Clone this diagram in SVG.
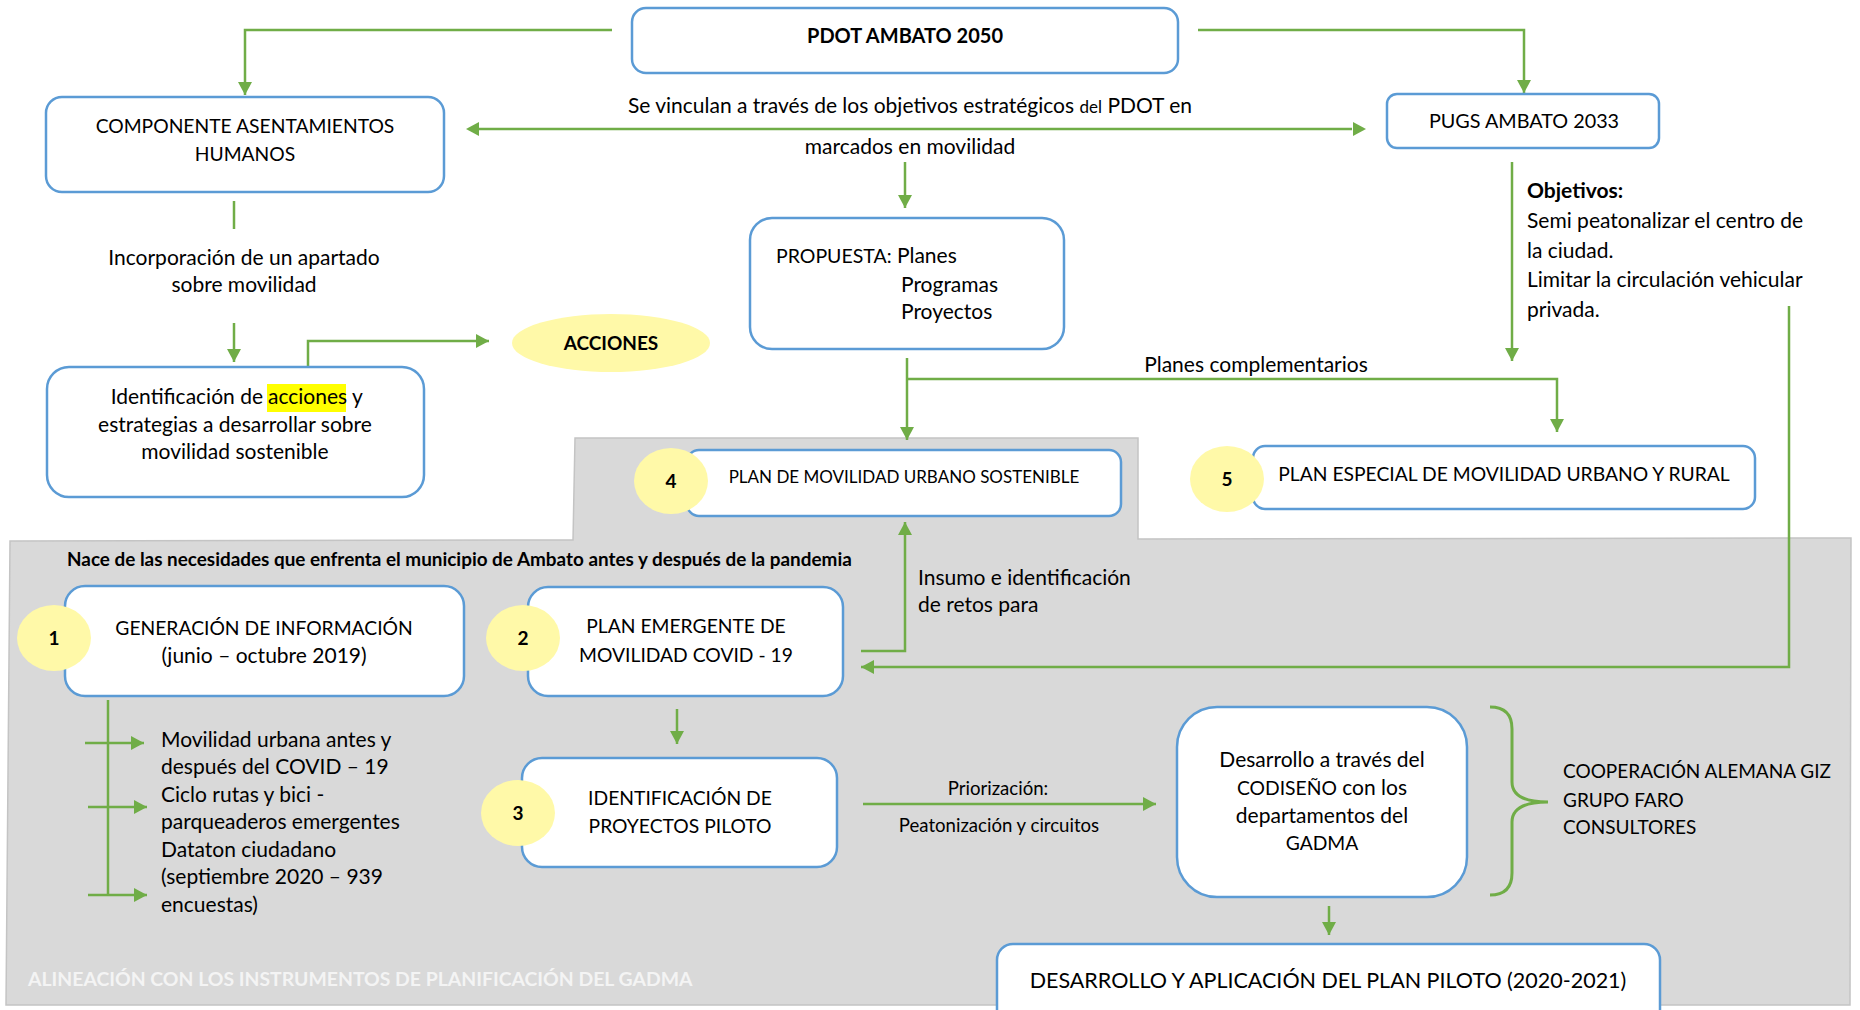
<svg xmlns="http://www.w3.org/2000/svg" width="1860" height="1010" viewBox="0 0 1860 1010">
<defs>
<style>
.box{fill:#fff;stroke:#5B9BD5;stroke-width:2.5}
.num{fill:#FFF9A8}
.ln{fill:none;stroke:#70AD47;stroke-width:2.5}
.ar{fill:none;stroke:#70AD47;stroke-width:2.5;marker-end:url(#ah)}
.t{font-family:Lato,'Liberation Sans',sans-serif;font-size:21px;fill:#000}
.u{font-size:19.3px}
.m{text-anchor:middle}
.b{font-weight:bold}
.n{font-family:Lato,'Liberation Sans',sans-serif;font-size:19px;font-weight:bold;text-anchor:middle}
</style>
<marker id="ah" markerUnits="userSpaceOnUse" markerWidth="14" markerHeight="14" refX="13" refY="7" orient="auto">
<path d="M0,0 L13,7 L0,14 z" fill="#70AD47"/>
</marker>
</defs>
<rect width="1860" height="1010" fill="#fff"/>
<polygon id="background" points="10,541 573,540 575,438 1138,438 1138,539 1851,538 1850,1005 6,1005" fill="#D9D9D9" stroke="#C4C4C4" stroke-width="1.5"/>

<g id="connectors">
<path class="ar" d="M612,30 H245 V95"/>
<path class="ar" d="M1198,30 H1524 V93"/>
<path class="ln" d="M478,129 H1352"/>
<path d="M466,129 L479,122 L479,136 z" fill="#70AD47"/>
<path d="M1366,129 L1353,122 L1353,136 z" fill="#70AD47"/>
<path class="ar" d="M905,162 V208"/>
<path class="ln" d="M234,201 V229"/>
<path class="ar" d="M234,323 V362"/>
<path class="ar" d="M308,386 V341 H489"/>
<path class="ar" d="M907,358 V440"/>
<path class="ar" d="M907,379 H1557 V432"/>
<path class="ar" d="M1512,162 V361"/>
<path class="ar" d="M1789,306 V667 H861"/>
<path class="ar" d="M861,651 H905 V522"/>
<path class="ar" d="M677,709 V744"/>
<path class="ln" d="M108,700 V895"/>
<path class="ar" d="M85,743 H144"/>
<path class="ar" d="M88,807 H147"/>
<path class="ar" d="M88,895 H147"/>
<path class="ar" d="M863,804 H1156"/>
<path class="ar" d="M1329,906 V935"/>
<path id="brace" class="ln" style="stroke-width:3" d="M1490,707 Q1512,707 1512,729 V782 Q1512,802 1548,802 Q1512,802 1512,822 V873 Q1512,895 1490,895"/>
</g>

<g id="pdot">
<rect class="box" x="632" y="8" width="546" height="65" rx="14"/>
<text class="t m b" x="905" y="43" style="font-size:20px">PDOT AMBATO 2050</text>
</g>
<g id="vinculo-label">
<text class="t m" x="910" y="113">Se vinculan a través de los objetivos estratégicos <tspan style="font-size:17px">del</tspan> PDOT en</text>
<text class="t m" x="910" y="154">marcados en movilidad</text>
</g>
<g id="componente">
<rect class="box" x="46" y="97" width="398" height="95" rx="16"/>
<text class="t m u" x="245" y="133">COMPONENTE ASENTAMIENTOS</text>
<text class="t m u" x="245" y="161">HUMANOS</text>
</g>
<g id="incorporacion">
<text class="t m" x="244" y="265">Incorporación de un apartado</text>
<text class="t m" x="244" y="292">sobre movilidad</text>
</g>
<g id="identificacion">
<rect class="box" x="47" y="367" width="377" height="130" rx="22"/>
<rect x="267" y="384" width="79" height="28" fill="#FFFF00"/>
<text class="t" x="263" y="404" text-anchor="end">Identificación de</text>
<text class="t" x="268" y="404">acciones</text>
<text class="t" x="352" y="404">y</text>
<text class="t m" x="235" y="432">estrategias a desarrollar sobre</text>
<text class="t m" x="235" y="459">movilidad sostenible</text>
</g>
<g id="acciones">
<ellipse class="num" cx="611" cy="343" rx="99" ry="29"/>
<text class="t m b" x="611" y="350" style="font-size:19px">ACCIONES</text>
</g>
<g id="propuesta">
<rect class="box" x="750" y="218" width="314" height="131" rx="22"/>
<text class="t" x="776" y="263"><tspan style="font-size:19.5px">PROPUESTA:</tspan> Planes</text>
<text class="t" x="901" y="292">Programas</text>
<text class="t" x="901" y="319">Proyectos</text>
</g>
<g id="pugs">
<rect class="box" x="1387" y="94" width="272" height="54" rx="10"/>
<text class="t m" x="1524" y="128" style="font-size:19.8px">PUGS AMBATO 2033</text>
</g>
<g id="objetivos">
<text class="t b" x="1527" y="198">Objetivos:</text>
<text class="t" x="1527" y="228">Semi peatonalizar el centro de</text>
<text class="t" x="1527" y="258">la ciudad.</text>
<text class="t" x="1527" y="287">Limitar la circulación vehicular</text>
<text class="t" x="1527" y="317">privada.</text>
</g>
<g id="planes-label">
<text class="t m" x="1256" y="372">Planes complementarios</text>
</g>
<g id="plan4">
<rect class="box" x="687" y="450" width="434" height="66" rx="12"/>
<text class="t m" x="904" y="483" style="font-size:17px">PLAN DE MOVILIDAD URBANO SOSTENIBLE</text>
<ellipse class="num" cx="671" cy="481" rx="37" ry="33"/>
<text class="n" x="671" y="488">4</text>
</g>
<g id="plan5">
<rect class="box" x="1253" y="446" width="502" height="63" rx="12"/>
<text class="t m u" x="1504" y="481">PLAN ESPECIAL DE MOVILIDAD URBANO Y RURAL</text>
<ellipse class="num" cx="1227" cy="479" rx="37" ry="33"/>
<text class="n" x="1227" y="486">5</text>
</g>
<g id="nace">
<text class="t b" x="67" y="566" style="font-size:18.9px">Nace de las necesidades que enfrenta el municipio de Ambato antes y después de la pandemia</text>
</g>
<g id="paso1">
<rect class="box" x="65" y="586" width="399" height="110" rx="20"/>
<text class="t m u" x="264" y="635">GENERACIÓN DE INFORMACIÓN</text>
<text class="t m" x="264" y="663">(junio – octubre 2019)</text>
<ellipse class="num" cx="54" cy="638" rx="37" ry="33"/>
<text class="n" x="54" y="645">1</text>
</g>
<g id="paso2">
<rect class="box" x="528" y="587" width="315" height="109" rx="20"/>
<text class="t m u" x="686" y="633">PLAN EMERGENTE DE</text>
<text class="t m u" x="686" y="662">MOVILIDAD COVID - 19</text>
<ellipse class="num" cx="523" cy="638" rx="37" ry="33"/>
<text class="n" x="523" y="645">2</text>
</g>
<g id="insumo-label">
<text class="t" x="918" y="585">Insumo e identificación</text>
<text class="t" x="918" y="612">de retos para</text>
</g>
<g id="bullets">
<text class="t" x="161" y="747">Movilidad urbana antes y</text>
<text class="t" x="161" y="774">después del COVID – 19</text>
<text class="t" x="161" y="802">Ciclo rutas y bici -</text>
<text class="t" x="161" y="829">parqueaderos emergentes</text>
<text class="t" x="161" y="857">Dataton ciudadano</text>
<text class="t" x="161" y="884">(septiembre 2020 – 939</text>
<text class="t" x="161" y="912">encuestas)</text>
</g>
<g id="paso3">
<rect class="box" x="522" y="758" width="315" height="109" rx="20"/>
<text class="t m u" x="680" y="805">IDENTIFICACIÓN DE</text>
<text class="t m u" x="680" y="833">PROYECTOS PILOTO</text>
<ellipse class="num" cx="518" cy="813" rx="37" ry="33"/>
<text class="n" x="518" y="820">3</text>
</g>
<g id="priorizacion-label">
<text class="t m" x="998" y="795" style="font-size:18.6px">Priorización:</text>
<text class="t m" x="999" y="832" style="font-size:18.6px">Peatonización y circuitos</text>
</g>
<g id="codiseno">
<rect class="box" x="1177" y="707" width="290" height="190" rx="40"/>
<text class="t m" x="1322" y="767">Desarrollo a través del</text>
<text class="t m" x="1322" y="795"><tspan style="font-size:19.3px">CODISEÑO</tspan> con los</text>
<text class="t m" x="1322" y="823">departamentos del</text>
<text class="t m u" x="1322" y="850">GADMA</text>
</g>
<g id="cooperacion">
<text class="t" x="1563" y="778" style="font-size:19px">COOPERACIÓN ALEMANA GIZ</text>
<text class="t" x="1563" y="807" style="font-size:19px">GRUPO FARO</text>
<text class="t" x="1563" y="834" style="font-size:19px">CONSULTORES</text>
</g>
<g id="plan-piloto">
<rect class="box" x="997" y="944" width="663" height="90" rx="16"/>
<text class="t m" x="1328" y="988" style="font-size:21.5px">DESARROLLO Y APLICACIÓN DEL PLAN PILOTO (2020-2021)</text>
</g>
<g id="alineacion">
<text class="t b" x="28" y="986" style="font-size:19.4px;fill:#F4F4F4">ALINEACIÓN CON LOS INSTRUMENTOS DE PLANIFICACIÓN DEL GADMA</text>
</g>
</svg>
